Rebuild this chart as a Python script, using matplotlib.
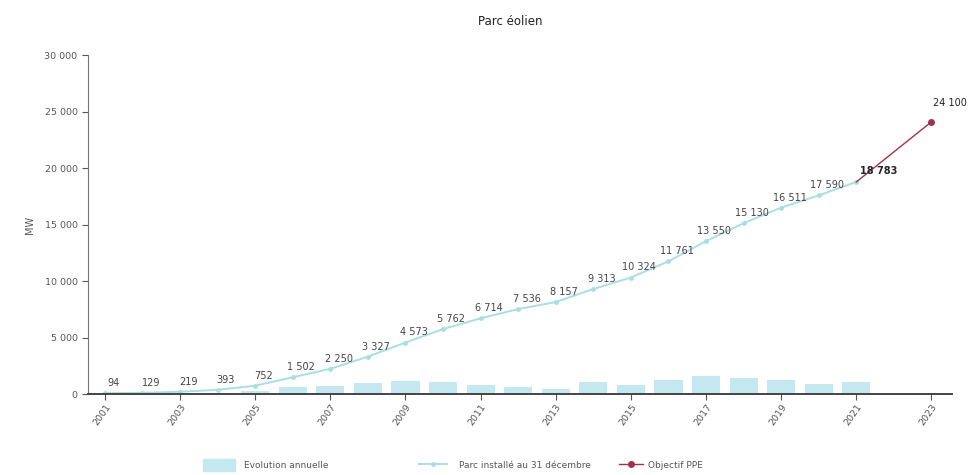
import numpy as np
import matplotlib.pyplot as plt
from matplotlib.ticker import FuncFormatter
from matplotlib.patches import Patch
from matplotlib.lines import Line2D

# Parc éolien : évolution annuelle et parc installé (MW)
annees = list(range(2001, 2022))
parc = [94, 129, 219, 393, 752, 1502, 2250, 3327, 4573, 5762, 6714, 7536,
        8157, 9313, 10324, 11761, 13550, 15130, 16511, 17590, 18783]
evolution = [30, 35, 80, 150, 330, 650, 700, 1000, 1150, 1100, 850, 650,
             450, 1050, 850, 1250, 1600, 1450, 1300, 950, 1050]
ppe_annees = [2021, 2023]
ppe_valeurs = [18783, 24100]
ticks_annees = list(range(2001, 2024, 2))

c_bar = '#c4e8ef'
c_parc = '#a9dfe3'
c_ppe = '#a3304f'
c_txt = '#444444'

fig = plt.figure(figsize=(9.71, 4.75), dpi=100)
ax = fig.add_axes([0.0906, 0.17, 0.89, 0.714])

ax.bar(annees, evolution, width=0.75, color=c_bar, zorder=1)
ax.plot(annees, parc, color=c_parc, lw=1.4, marker='o', ms=2.5, zorder=2)
ax.plot(ppe_annees, ppe_valeurs, color=c_ppe, lw=1.0, marker='o', ms=4,
        markevery=[1], zorder=3)

def fmt(v):
    return f'{int(v):,}'.replace(',', ' ')

for a, v in zip(annees, parc):
    if a == 2021:
        ax.text(a + 0.1, v + 500, fmt(v), fontsize=7, color='#222222',
                fontweight='bold', ha='left', va='bottom')
    else:
        ax.text(a + 0.22, v + 450, fmt(v), fontsize=7, color=c_txt,
                ha='center', va='bottom')
ax.text(ppe_annees[1] + 0.05, ppe_valeurs[1] + 1200, fmt(ppe_valeurs[1]),
        fontsize=7, color='#222222', ha='left', va='bottom')

ax.set_xlim(2000.55, 2023.55)
ax.set_ylim(0, 30000)
ax.set_yticks(np.arange(0, 30001, 5000))
ax.yaxis.set_major_formatter(FuncFormatter(lambda v, p: fmt(v)))
ax.set_xticks(ticks_annees)
ax.set_xticklabels([str(a) for a in ticks_annees], rotation=55,
                   ha='right', rotation_mode='anchor')
ax.tick_params(axis='both', labelsize=6.8, colors='#555555', length=4, width=0.8)
ax.tick_params(axis='x', pad=2)
ax.set_ylabel('MW', fontsize=7, color='#555555', labelpad=7)

for s in ['top', 'right']:
    ax.spines[s].set_visible(False)
ax.spines['left'].set_color('#777777')
ax.spines['bottom'].set_color('#444444')
ax.spines['bottom'].set_linewidth(1.4)

fig.text(0.525, 0.955, 'Parc éolien', ha='center', va='center', fontsize=8.5,
         color='#222222')

# légende en trois morceaux, comme dans l'original
leg_kw = dict(frameon=False, fontsize=6.5, labelcolor='#555555', borderpad=0,
              borderaxespad=0, loc='center left')
l1 = fig.legend(handles=[Patch(color=c_bar)], labels=['Evolution annuelle'],
                bbox_to_anchor=(0.209, 0.021), handlelength=3.6, handleheight=1.6,
                handletextpad=1.0, **leg_kw)
l2 = fig.legend(handles=[Line2D([], [], color=c_parc, lw=1.4, marker='o', ms=2.5)],
                labels=['Parc installé au 31 décembre'],
                bbox_to_anchor=(0.432, 0.021), handlelength=3.0,
                handletextpad=1.4, **leg_kw)
l3 = fig.legend(handles=[Line2D([], [], color=c_ppe, lw=1.0, marker='o', ms=4)],
                labels=['Objectif PPE'],
                bbox_to_anchor=(0.638, 0.021), handlelength=2.6,
                handletextpad=0.6, **leg_kw)

plt.savefig('out.png', dpi=100)
